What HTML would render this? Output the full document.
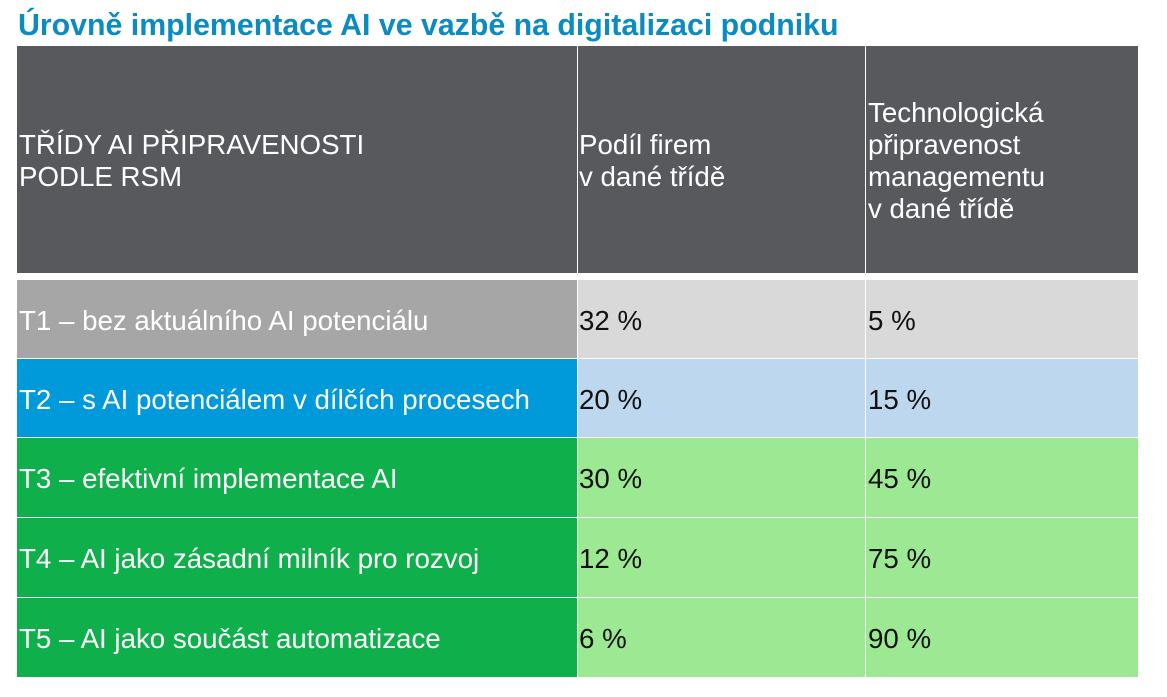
<!DOCTYPE html>
<html>
<head>
<meta charset="utf-8">
<style>
  html, body { margin:0; padding:0; background:#ffffff; }
  body { width:1167px; height:697px; position:relative; overflow:hidden;
         font-family:"Liberation Sans", Arial, sans-serif; }
  .title { position:absolute; left:18px; top:9px; font-size:30.3px; font-weight:bold;
           color:#0b8bc0; line-height:34px; white-space:nowrap; }
  .cell { position:absolute; display:flex; align-items:center; box-sizing:border-box;
          font-size:27.7px; line-height:32px; white-space:nowrap; }
  .hdr { background:#58595d; color:#ffffff; padding-top:2px; }
  .c1 { left:17px; width:560px; padding-left:2px; }
  .c2 { left:578px; width:287px; padding-left:1px; }
  .c3 { left:866px; width:272px; padding-left:2px; }
  .lbl { color:#ffffff; padding-top:3px; }
  .val { color:#111111; padding-top:3px; }
</style>
</head>
<body>
<div class="title">Úrovně implementace AI ve vazbě na digitalizaci podniku</div>

<!-- header -->
<div class="cell hdr c1" style="top:46px;height:227px;">TŘÍDY AI PŘIPRAVENOSTI<br>PODLE RSM</div>
<div class="cell hdr c2" style="top:46px;height:227px;">Podíl firem<br>v dané třídě</div>
<div class="cell hdr c3" style="top:46px;height:227px;">Technologická<br>připravenost<br>managementu<br>v dané třídě</div>

<!-- row 1 -->
<div class="cell lbl c1" style="top:280px;height:78px;background:#a6a6a6;">T1 – bez aktuálního AI potenciálu</div>
<div class="cell val c2" style="top:280px;height:78px;background:#d9d9d9;">32 %</div>
<div class="cell val c3" style="top:280px;height:78px;background:#d9d9d9;">5 %</div>

<!-- row 2 -->
<div class="cell lbl c1" style="top:359px;height:78px;background:#0099da;">T2 – s AI potenciálem v dílčích procesech</div>
<div class="cell val c2" style="top:359px;height:78px;background:#bdd7ee;">20 %</div>
<div class="cell val c3" style="top:359px;height:78px;background:#bdd7ee;">15 %</div>

<!-- row 3 -->
<div class="cell lbl c1" style="top:438px;height:79px;background:#0faf4b;">T3 – efektivní implementace AI</div>
<div class="cell val c2" style="top:438px;height:79px;background:#9de892;">30 %</div>
<div class="cell val c3" style="top:438px;height:79px;background:#9de892;">45 %</div>

<!-- row 4 -->
<div class="cell lbl c1" style="top:518px;height:79px;background:#0faf4b;">T4 – AI jako zásadní milník pro rozvoj</div>
<div class="cell val c2" style="top:518px;height:79px;background:#9de892;">12 %</div>
<div class="cell val c3" style="top:518px;height:79px;background:#9de892;">75 %</div>

<!-- row 5 -->
<div class="cell lbl c1" style="top:598px;height:79px;background:#0faf4b;">T5 – AI jako součást automatizace</div>
<div class="cell val c2" style="top:598px;height:79px;background:#9de892;">6 %</div>
<div class="cell val c3" style="top:598px;height:79px;background:#9de892;">90 %</div>
</body>
</html>
